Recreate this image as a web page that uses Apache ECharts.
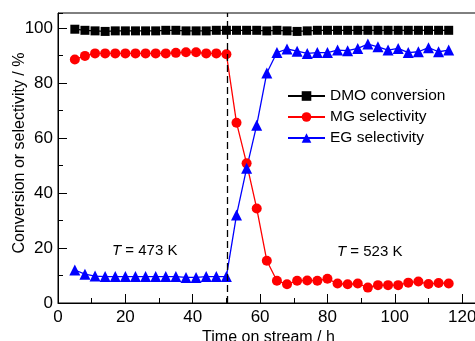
<!DOCTYPE html>
<html>
<head>
<meta charset="utf-8">
<script src="https://cdn.jsdelivr.net/npm/echarts@6/dist/echarts.min.js"></script>
<style>
  html, body { margin: 0; padding: 0; background: #fff; }
  #main { width: 475px; height: 341px; }
</style>
</head>
<body>
<div id="main"></div>
<script>
// time on stream / h
var timeH = [5, 8, 11, 14, 17, 20, 23, 26, 29, 32, 35, 38, 41, 44, 47, 50,
    53, 56, 59, 62, 65, 68, 71, 74, 77, 80, 83, 86, 89, 92, 95, 98, 101, 104, 107, 110, 113, 116];

var dmoConversion = [99.6, 99.2, 99.0, 98.8, 99.0, 99.0, 99.0, 99.0, 99.0, 99.2, 99.2, 99.0, 99.0, 99.0, 99.2, 99.2,
    99.2, 99.2, 99.2, 99.0, 99.2, 99.0, 98.8, 99.0, 99.2, 99.2, 99.2, 99.2, 99.2, 99.2, 99.2, 99.2, 99.2, 99.2, 99.2, 99.2, 99.2, 99.2];

var mgSelectivity = [88.6, 89.9, 90.8, 90.8, 90.8, 90.8, 90.8, 90.8, 90.8, 90.8, 91.0, 91.2, 91.2, 90.8, 90.8, 90.5,
    65.6, 50.8, 34.4, 15.4, 8.1, 6.8, 8.1, 8.2, 8.1, 8.8, 7.1, 6.8, 7.1, 5.6, 6.5, 6.5, 6.5, 7.4, 7.8, 6.9, 7.3, 7.1];

var egSelectivity = [12.0, 10.5, 9.8, 9.6, 9.6, 9.6, 9.6, 9.6, 9.6, 9.6, 9.6, 9.3, 9.3, 9.6, 9.6, 9.6,
    32.0, 49.0, 64.7, 83.7, 91.1, 92.4, 91.6, 90.8, 91.1, 91.1, 92.0, 91.8, 92.6, 94.2, 93.2, 92.0, 92.6, 91.1, 91.4, 92.9, 91.4, 92.0];

var seriesNames = ['DMO conversion', 'MG selectivity', 'EG selectivity'];
var switchTime = 50.3;   // temperature change 473 K -> 523 K

function pairs(xs, ys) {
    var out = [];
    for (var i = 0; i < xs.length; i++) {
        out.push([xs[i], ys[i]]);
    }
    return out;
}

var FONT = 'Arial, "Liberation Sans", sans-serif';

var chart = echarts.init(document.getElementById('main'));

var option = {
    backgroundColor: '#fff',
    animation: false,
    textStyle: { fontFamily: FONT },
    grid: {
        left: 58, top: 13, bottom: 38, right: -4,
        show: true, borderColor: '#000', borderWidth: 1,
        containLabel: false,
        outerBoundsMode: 'none'
    },
    legend: {
        orient: 'vertical',
        left: 287, top: 88, padding: 0,
        itemWidth: 37, itemHeight: 12, itemGap: 5,
        textStyle: { fontSize: 15.5, color: '#000', fontFamily: FONT },
        data: seriesNames
    },
    xAxis: [{
        type: 'value', min: 0, max: 125, interval: 20,
        name: 'Time on stream / h', nameLocation: 'middle', nameGap: 27,
        nameMoveOverlap: false,
        nameTextStyle: { fontSize: 16, color: '#000', fontFamily: FONT },
        axisLine: { lineStyle: { color: '#000', width: 1 } },
        axisTick: { inside: true, length: 9, lineStyle: { color: '#000' } },
        axisLabel: { fontSize: 17, color: '#000', margin: 6, showMaxLabel: false },
        splitLine: { show: false }
    }, {
        // minor ticks
        type: 'value', min: 0, max: 125, interval: 10, position: 'bottom',
        axisLine: { show: false },
        axisTick: { inside: true, length: 5, lineStyle: { color: '#000' } },
        axisLabel: { show: false },
        splitLine: { show: false }
    }],
    yAxis: [{
        type: 'value', min: 0, max: 105.5, interval: 20,
        name: 'Conversion or selectivity / %', nameLocation: 'middle', nameGap: 30,
        nameMoveOverlap: false,
        nameTextStyle: { fontSize: 16, color: '#000', fontFamily: FONT, padding: [0, 0, 0, 10] },
        axisLine: { lineStyle: { color: '#000', width: 1 } },
        axisTick: { inside: true, length: 9, lineStyle: { color: '#000' } },
        axisLabel: { fontSize: 17, color: '#000', margin: 5, showMaxLabel: false },
        splitLine: { show: false }
    }, {
        type: 'value', min: 0, max: 105.5, interval: 10, position: 'left',
        axisLine: { show: false },
        axisTick: { inside: true, length: 5, lineStyle: { color: '#000' } },
        axisLabel: { show: false },
        splitLine: { show: false }
    }],
    series: [
        {
            name: seriesNames[0], type: 'line',
            data: pairs(timeH, dmoConversion),
            symbol: 'rect', symbolSize: 9,
            color: '#000',
            lineStyle: { color: '#000', width: 1.2 },
            itemStyle: { color: '#000' },
            markLine: {
                silent: true, symbol: 'none', label: { show: false },
                lineStyle: { color: '#000', type: [7, 4], width: 1.3 },
                data: [{ xAxis: switchTime }]
            }
        },
        {
            name: seriesNames[1], type: 'line',
            data: pairs(timeH, mgSelectivity),
            symbol: 'circle', symbolSize: 10,
            color: '#ff0000',
            lineStyle: { color: '#ff0000', width: 1.3 },
            itemStyle: { color: '#ff0000' }
        },
        {
            name: seriesNames[2], type: 'line',
            data: pairs(timeH, egSelectivity),
            symbol: 'triangle', symbolSize: 11,
            color: '#0000ff',
            lineStyle: { color: '#0000ff', width: 1.3 },
            itemStyle: { color: '#0000ff' }
        }
    ],
    graphic: [
        {
            type: 'text', left: 112, top: 243,
            style: {
                text: '{i|T} = 473 K',
                fontSize: 15, fontFamily: FONT, fill: '#000',
                rich: { i: { fontStyle: 'italic', fontSize: 15, fontFamily: FONT } }
            }
        },
        {
            type: 'text', left: 337, top: 244,
            style: {
                text: '{i|T} = 523 K',
                fontSize: 15, fontFamily: FONT, fill: '#000',
                rich: { i: { fontStyle: 'italic', fontSize: 15, fontFamily: FONT } }
            }
        }
    ]
};

chart.setOption(option);
</script>
</body>
</html>
